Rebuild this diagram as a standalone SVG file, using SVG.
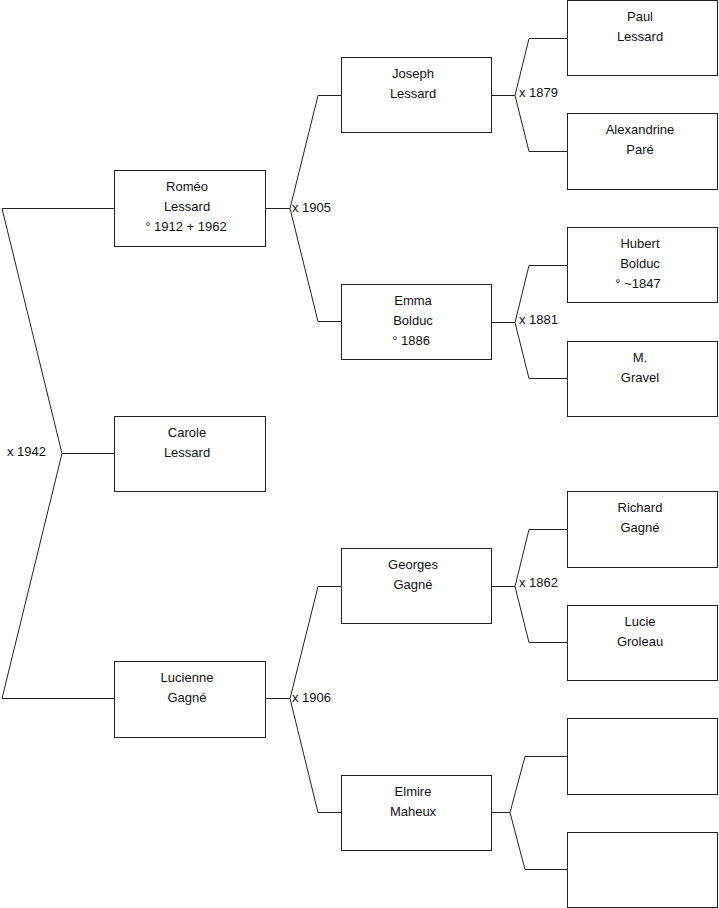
<svg xmlns="http://www.w3.org/2000/svg" width="719" height="908" viewBox="0 0 719 908">
<style>
.box{fill:#fff;stroke:#222;stroke-width:1}
.t{font-family:"Liberation Sans",Arial,sans-serif;font-size:13px;fill:#111;text-anchor:middle}
.l{font-family:"Liberation Sans",Arial,sans-serif;font-size:13px;fill:#111}
.c{fill:none;stroke:#222;stroke-width:1}
</style>
<rect width="719" height="908" fill="#fff"/>
<g id="connectors">
<polyline class="c" points="114,208.5 2,208.5 62,453.5 2,698.5 114,698.5"/>
<line class="c" x1="62" y1="453.5" x2="114" y2="453.5"/>
<polyline class="c" points="341,95.5 318,95.5 290,208.5 318,321.5 341,321.5"/>
<line class="c" x1="265" y1="208.5" x2="290" y2="208.5"/>
<polyline class="c" points="341,586.5 318,586.5 290,698.5 318,812.5 341,812.5"/>
<line class="c" x1="265" y1="698.5" x2="290" y2="698.5"/>
<polyline class="c" points="567,38.5 529,38.5 515,95.5 529,151.5 567,151.5"/>
<line class="c" x1="492" y1="95.5" x2="515" y2="95.5"/>
<polyline class="c" points="567,265.5 529,265.5 515,322.5 529,378.5 567,378.5"/>
<line class="c" x1="492" y1="322.5" x2="515" y2="322.5"/>
<polyline class="c" points="567,529.5 529,529.5 515,586.5 529,642.5 567,642.5"/>
<line class="c" x1="492" y1="586.5" x2="515" y2="586.5"/>
<polyline class="c" points="567,756.5 525,756.5 510,812.5 525,869.5 567,869.5"/>
<line class="c" x1="492" y1="812.5" x2="510" y2="812.5"/>
<text class="l" x="7" y="456">x 1942</text>
<text class="l" x="292" y="212">x 1905</text>
<text class="l" x="292" y="702">x 1906</text>
<text class="l" x="519" y="97">x 1879</text>
<text class="l" x="519" y="324">x 1881</text>
<text class="l" x="519" y="587">x 1862</text>
</g>
<g id="romeo"><rect class="box" x="114.5" y="170.5" width="151" height="76"/><text class="t" x="187" y="191">Roméo</text><text class="t" x="187" y="211">Lessard</text><text class="t" x="186" y="231">° 1912 + 1962</text></g>
<g id="carole"><rect class="box" x="114.5" y="416.5" width="151" height="75"/><text class="t" x="187" y="437">Carole</text><text class="t" x="187" y="457">Lessard</text></g>
<g id="lucienne"><rect class="box" x="114.5" y="661.5" width="151" height="76"/><text class="t" x="187" y="682">Lucienne</text><text class="t" x="187" y="702">Gagné</text></g>
<g id="joseph"><rect class="box" x="341.5" y="57.5" width="150" height="75"/><text class="t" x="413" y="78">Joseph</text><text class="t" x="413" y="98">Lessard</text></g>
<g id="emma"><rect class="box" x="341.5" y="284.5" width="150" height="75"/><text class="t" x="413" y="305">Emma</text><text class="t" x="413" y="325">Bolduc</text><text class="t" x="411" y="345">° 1886</text></g>
<g id="georges"><rect class="box" x="341.5" y="548.5" width="150" height="75"/><text class="t" x="413" y="569">Georges</text><text class="t" x="413" y="589">Gagné</text></g>
<g id="elmire"><rect class="box" x="341.5" y="775.5" width="150" height="75"/><text class="t" x="413" y="796">Elmire</text><text class="t" x="413" y="816">Maheux</text></g>
<g id="paul"><rect class="box" x="567.5" y="0.5" width="150" height="75"/><text class="t" x="640" y="21">Paul</text><text class="t" x="640" y="41">Lessard</text></g>
<g id="alexandrine"><rect class="box" x="567.5" y="113.5" width="150" height="76"/><text class="t" x="640" y="134">Alexandrine</text><text class="t" x="640" y="154">Paré</text></g>
<g id="hubert"><rect class="box" x="567.5" y="227.5" width="150" height="75"/><text class="t" x="640" y="248">Hubert</text><text class="t" x="640" y="268">Bolduc</text><text class="t" x="638" y="288">° ~1847</text></g>
<g id="gravel"><rect class="box" x="567.5" y="341.5" width="150" height="75"/><text class="t" x="640" y="362">M.</text><text class="t" x="640" y="382">Gravel</text></g>
<g id="richard"><rect class="box" x="567.5" y="491.5" width="150" height="76"/><text class="t" x="640" y="512">Richard</text><text class="t" x="640" y="532">Gagné</text></g>
<g id="lucie"><rect class="box" x="567.5" y="605.5" width="150" height="75"/><text class="t" x="640" y="626">Lucie</text><text class="t" x="640" y="646">Groleau</text></g>
<g id="unknown1"><rect class="box" x="567.5" y="718.5" width="150" height="76"/></g>
<g id="unknown2"><rect class="box" x="567.5" y="832.5" width="150" height="75"/></g>
</svg>
